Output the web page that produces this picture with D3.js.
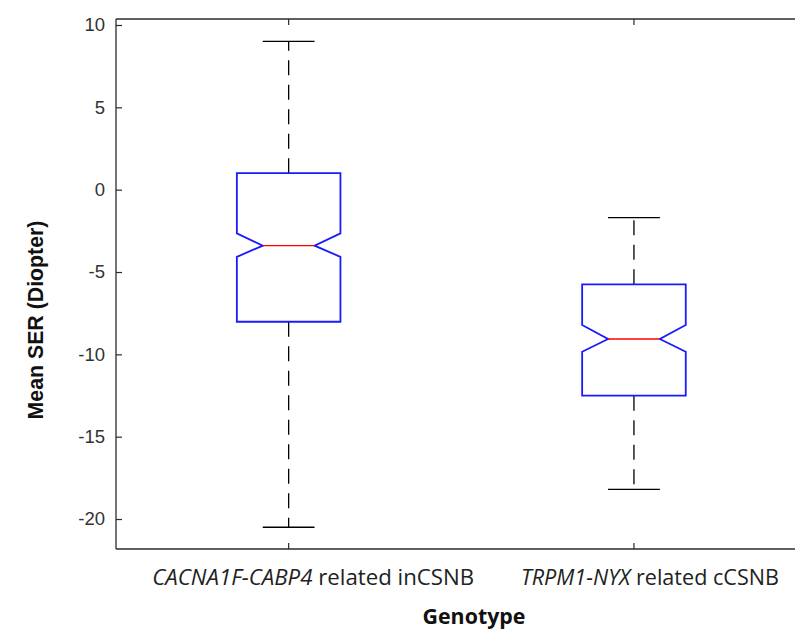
<!DOCTYPE html>
<html>
<head>
<meta charset="utf-8">
<script src="https://cdn.jsdelivr.net/npm/d3@7"></script>
<style>
  html, body { margin: 0; padding: 0; background: #fff; }
  svg { display: block; }
</style>
</head>
<body>
<svg id="chart" width="795" height="629"></svg>
<script>
// ---- data ----
const categories = ["CACNA1F-CABP4 related inCSNB", "TRPM1-NYX related cCSNB"];
const labelItalic = ["CACNA1F-CABP4", "TRPM1-NYX"];
const labelRest = [" related inCSNB", " related cCSNB"];
const whiskerHigh = [9.0, -1.7];
const q3 = [1.0, -5.75];
const notchHigh = [-2.65, -8.22];
const median = [-3.40, -9.07];
const notchLow = [-4.08, -9.84];
const q1 = [-8.02, -12.51];
const whiskerLow = [-20.5, -18.2];
const yTicks = [10, 5, 0, -5, -10, -15, -20];
const yLabel = "Mean SER (Diopter)";
const xLabel = "Genotype";

// ---- layout ----
const svg = d3.select("#chart");
const plotLeft = 116, plotTop = 19, plotBottom = 549, plotRight = 806.6;
const axisColor = "#2b2b2b";

const y = d3.scaleLinear().domain([-21.82, 10.364]).range([plotBottom, plotTop]);
const x = d3.scaleLinear().domain([0.5, 2.5]).range([plotLeft, plotRight]);
const boxHalf = 0.15, capHalf = 0.075, notchHalf = 0.075;

// frame lines (top, bottom)
svg.append("line").attr("x1", plotLeft).attr("x2", 795).attr("y1", plotTop).attr("y2", plotTop)
  .attr("stroke", axisColor).attr("stroke-width", 1.3);
svg.append("line").attr("x1", plotLeft).attr("x2", 795).attr("y1", plotBottom).attr("y2", plotBottom)
  .attr("stroke", axisColor).attr("stroke-width", 1.3);

// y axis
const yAxis = d3.axisLeft(y).tickValues(yTicks).tickSize(-6).tickPadding(11).tickFormat(d => String(d));
const gy = svg.append("g").attr("transform", `translate(${plotLeft},0)`).call(yAxis);
gy.select(".domain").remove();
gy.append("line").attr("x1", 0).attr("x2", 0).attr("y1", plotTop).attr("y2", plotBottom)
  .attr("stroke", axisColor).attr("stroke-width", 1.3);
gy.selectAll(".tick line").attr("stroke", axisColor).attr("stroke-width", 1.2);
gy.selectAll(".tick text").attr("fill", "#333")
  .style("font-family", "Liberation Sans, Arial, sans-serif").style("font-size", "18.5px");

// x ticks (top & bottom, inward)
const idx = categories.map((c, i) => i + 1);
svg.append("g").selectAll("line").data(idx).join("line")
  .attr("x1", d => x(d)).attr("x2", d => x(d)).attr("y1", plotTop).attr("y2", plotTop + 6)
  .attr("stroke", axisColor).attr("stroke-width", 1.2);
svg.append("g").selectAll("line").data(idx).join("line")
  .attr("x1", d => x(d)).attr("x2", d => x(d)).attr("y1", plotBottom).attr("y2", plotBottom - 6)
  .attr("stroke", axisColor).attr("stroke-width", 1.2);

// boxes
const g = svg.append("g");
categories.forEach((c, i) => {
  const cx = i + 1;
  g.append("line").attr("x1", x(cx)).attr("x2", x(cx)).attr("y1", y(q3[i])).attr("y2", y(whiskerHigh[i]))
    .attr("stroke", "#000").attr("stroke-width", 1.3).attr("stroke-dasharray", "15,9.5");
  g.append("line").attr("x1", x(cx)).attr("x2", x(cx)).attr("y1", y(q1[i])).attr("y2", y(whiskerLow[i]))
    .attr("stroke", "#000").attr("stroke-width", 1.3).attr("stroke-dasharray", "15,9.5");
  [whiskerHigh[i], whiskerLow[i]].forEach(v => {
    g.append("line").attr("x1", x(cx - capHalf)).attr("x2", x(cx + capHalf)).attr("y1", y(v)).attr("y2", y(v))
      .attr("stroke", "#000").attr("stroke-width", 1.3);
  });
  const pts = [
    [cx - boxHalf, q3[i]], [cx + boxHalf, q3[i]], [cx + boxHalf, notchHigh[i]],
    [cx + notchHalf, median[i]], [cx + boxHalf, notchLow[i]], [cx + boxHalf, q1[i]],
    [cx - boxHalf, q1[i]], [cx - boxHalf, notchLow[i]], [cx - notchHalf, median[i]],
    [cx - boxHalf, notchHigh[i]]
  ];
  g.append("path").attr("d", d3.line().x(d => x(d[0])).y(d => y(d[1]))(pts) + "Z")
    .attr("fill", "none").attr("stroke", "#1a1aff").attr("stroke-width", 1.8).attr("stroke-linejoin", "miter");
  g.append("line").attr("x1", x(cx - notchHalf)).attr("x2", x(cx + notchHalf)).attr("y1", y(median[i])).attr("y2", y(median[i]))
    .attr("stroke", "#ff0000").attr("stroke-width", 1.4);
});

// category labels (in the reference they sit slightly right of the tick)
const fitWidths = [322, 258];
const labelShift = [24.5, 16];
categories.forEach((c, i) => {
  const t = svg.append("text").attr("x", x(i + 1) + labelShift[i]).attr("y", 585).attr("text-anchor", "middle")
    .attr("fill", "#222").style("font-family", "Open Sans, sans-serif").style("font-size", "17px");
  t.append("tspan").attr("font-style", "italic").text(labelItalic[i]);
  t.append("tspan").text(labelRest[i]);
  const w = t.node().getComputedTextLength();
  t.style("font-size", (17 * fitWidths[i] / w).toFixed(2) + "px");
});

// axis titles
const yt = svg.append("text").attr("transform", "translate(43,320) rotate(-90)").attr("text-anchor", "middle")
  .attr("fill", "#111").style("font-family", "Liberation Sans, Arial, sans-serif").style("font-weight", "bold")
  .style("font-size", "18px").text(yLabel);
const yw = yt.node().getComputedTextLength();
yt.style("font-size", (18 * 199 / yw).toFixed(2) + "px");

const xt = svg.append("text").attr("x", 474).attr("y", 624).attr("text-anchor", "middle")
  .attr("fill", "#111").style("font-family", "Open Sans, sans-serif").style("font-weight", "bold")
  .style("font-size", "17px").text(xLabel);
const xw = xt.node().getComputedTextLength();
xt.style("font-size", (17 * 103 / xw).toFixed(2) + "px");
</script>
</body>
</html>
